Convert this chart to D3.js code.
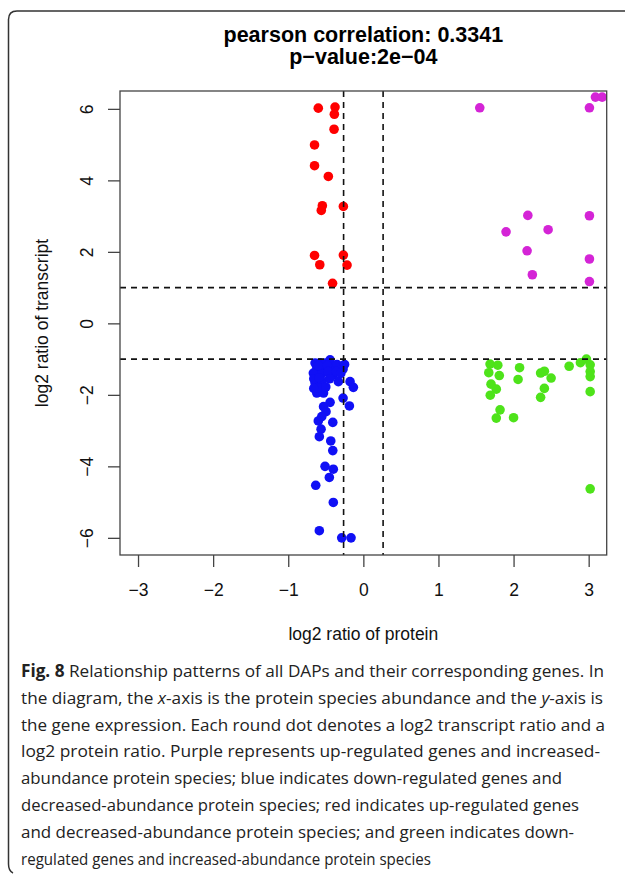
<!DOCTYPE html>
<html><head><meta charset="utf-8">
<script src="https://cdn.jsdelivr.net/npm/d3@7"></script>
<style>body{margin:0;background:#fff}svg{display:block}</style>
</head><body>
<svg id="c" width="625" height="875"></svg>
<script>
const titleLines = ["pearson correlation: 0.3341", "p\u2212value:2e\u221204"];
const xLabel = "log2 ratio of protein";
const yLabel = "log2 ratio of transcript";
const xTicks = [-3, -2, -1, 0, 1, 2, 3];
const yTicks = [-6, -4, -2, 0, 2, 4, 6];
const proteinCut = 0.263;     // log2(1.2)
const transcriptCut = 1;

const redPts = [[-0.60,6.02],[-0.377,6.05],[-0.386,5.85],[-0.39,5.43],[-0.65,4.99],[-0.65,4.41],[-0.466,4.11],[-0.546,3.29],[-0.56,3.16],[-0.266,3.27],[-0.65,1.90],[-0.266,1.91],[-0.58,1.64],[-0.217,1.63],[-0.41,1.12]];
const magentaPts = [[1.55,6.03],[3.01,6.03],[3.09,6.33],[3.18,6.33],[2.19,3.02],[3.01,3.01],[1.90,2.56],[2.46,2.62],[2.18,2.03],[3.01,1.80],[2.25,1.36],[3.01,1.17]];
const greenPts = [[1.687,-1.14],[1.79,-1.17],[1.67,-1.38],[1.81,-1.46],[1.70,-1.70],[1.77,-1.84],[1.69,-2.01],[2.08,-1.24],[2.06,-1.57],[2.36,-1.39],[2.41,-1.34],[2.50,-1.53],[2.41,-1.82],[2.36,-2.07],[1.82,-2.42],[1.77,-2.65],[2.00,-2.64],[2.74,-1.20],[2.89,-1.10],[2.97,-1.00],[3.02,-1.16],[3.02,-1.35],[3.02,-1.49],[3.02,-1.91],[3.02,-4.63]];
const bluePts = [[-0.643,-1.11],[-0.577,-1.10],[-0.51,-1.11],[-0.443,-1.02],[-0.62,-1.25],[-0.53,-1.25],[-0.42,-1.25],[-0.27,-1.28],[-0.666,-1.39],[-0.554,-1.41],[-0.40,-1.44],[-0.333,-1.63],[-0.177,-1.63],[-0.133,-1.79],[-0.643,-1.67],[-0.554,-1.63],[-0.62,-1.95],[-0.53,-1.95],[-0.27,-2.09],[-0.186,-2.31],[-0.443,-2.21],[-0.53,-2.33],[-0.497,-2.47],[-0.554,-2.61],[-0.60,-2.73],[-0.407,-2.77],[-0.563,-2.96],[-0.586,-3.17],[-0.434,-3.29],[-0.407,-3.56],[-0.51,-4.0],[-0.40,-4.08],[-0.453,-4.31],[-0.634,-4.53],[-0.40,-5.01],[-0.586,-5.80],[-0.288,-6.0],[-0.164,-6.0],[-0.60,-1.18],[-0.48,-1.18],[-0.35,-1.15],[-0.66,-1.55],[-0.59,-1.52],[-0.47,-1.35],[-0.36,-1.35],[-0.60,-1.80],[-0.50,-1.78],[-0.45,-1.55],[-0.66,-1.82],[-0.25,-1.15],[-0.30,-1.40]];

const seriesColors = {red:"#ff0000", magenta:"#d424d6", green:"#4ee31a", blue:"#1010f5"};

const captionLines = [
  [{t:"Fig. 8",b:1},{t:" Relationship patterns of all DAPs and their corresponding genes. In"}],
  [{t:"the diagram, the "},{t:"x",i:1},{t:"-axis is the protein species abundance and the "},{t:"y",i:1},{t:"-axis is"}],
  [{t:"the gene expression. Each round dot denotes a log2 transcript ratio and a"}],
  [{t:"log2 protein ratio. Purple represents up-regulated genes and increased-"}],
  [{t:"abundance protein species; blue indicates down-regulated genes and"}],
  [{t:"decreased-abundance protein species; red indicates up-regulated genes"}],
  [{t:"and decreased-abundance protein species; and green indicates down-"}],
  [{t:"regulated genes and increased-abundance protein species"}]
];
const captionWidths = [583, 582, 584, 579, 541, 558, 553, 410];

const svg = d3.select("#c");
const L = 120, R = 606.7, T = 91, B = 555;
const x = d3.scaleLinear().domain([-3.24, 3.24]).range([L, R]);
const y = d3.scaleLinear().domain([-6.48, 6.5]).range([B, T]);
const fontA = "'Liberation Sans', Arial, Helvetica, sans-serif";

// outer figure frame
svg.append("path")
  .attr("d", "M625,11 H17 Q8.5,11 8.5,19.5 V864 Q8.5,871 13,873")
  .attr("fill", "none").attr("stroke", "#333").attr("stroke-width", 1.5);

// title
svg.selectAll("text.title").data(titleLines).join("text")
  .attr("class","title")
  .attr("x", (L+R)/2).attr("y", (d,i) => 42 + i*22)
  .attr("text-anchor","middle")
  .attr("font-family", fontA).attr("font-weight","bold").attr("font-size", 21.5)
  .text(d => d);

// points
const groups = [["red", redPts],["magenta", magentaPts],["green", greenPts],["blue", bluePts]];
groups.forEach(([name, pts]) => {
  svg.append("g").selectAll("circle").data(pts).join("circle")
    .attr("cx", d => x(d[0])).attr("cy", d => y(d[1])).attr("r", 4.8)
    .attr("fill", seriesColors[name]);
});

// dashed threshold lines
const dash = "6,5";
[-proteinCut, proteinCut].forEach(v => {
  svg.append("line").attr("x1", x(v)).attr("x2", x(v)).attr("y1", T).attr("y2", B)
    .attr("stroke","#111").attr("stroke-width",1.6).attr("stroke-dasharray",dash);
});
[-transcriptCut, transcriptCut].forEach(v => {
  svg.append("line").attr("x1", L).attr("x2", R).attr("y1", y(v)).attr("y2", y(v))
    .attr("stroke","#111").attr("stroke-width",1.6).attr("stroke-dasharray",dash);
});

// plot box
svg.append("rect").attr("x", L).attr("y", T).attr("width", R-L).attr("height", B-T)
  .attr("fill","none").attr("stroke","#444").attr("stroke-width",1.3);

// axes
const gx = svg.append("g").attr("transform", `translate(0,${B})`)
  .call(d3.axisBottom(x).tickValues(xTicks).tickSize(12).tickPadding(17).tickFormat(d3.format("d")));
gx.select(".domain").remove();
gx.selectAll("line").attr("stroke","#444").attr("stroke-width",1.3);
gx.selectAll("text").attr("font-family", fontA).attr("font-size", 17.5).attr("fill","#111");

const gy = svg.append("g").attr("transform", `translate(${L},0)`)
  .call(d3.axisLeft(y).tickValues(yTicks).tickSize(12).tickFormat(d3.format("d")));
gy.select(".domain").remove();
gy.selectAll("line").attr("stroke","#444").attr("stroke-width",1.3);
gy.selectAll("text")
  .attr("font-family", fontA).attr("font-size", 17.5).attr("fill","#111")
  .attr("x", null).attr("dy", null)
  .attr("text-anchor","middle")
  .attr("transform", "translate(-26.7,0) rotate(-90)");

// axis titles
svg.append("text").attr("x", (L+R)/2).attr("y", 640).attr("text-anchor","middle")
  .attr("font-family", fontA).attr("font-size", 17.5).attr("fill","#111").text(xLabel);
svg.append("text").attr("transform", `translate(48,${(T+B)/2}) rotate(-90)`).attr("text-anchor","middle")
  .attr("font-family", fontA).attr("font-size", 17.5).attr("fill","#111").text(yLabel);

// caption
const cap = svg.append("g");
captionLines.forEach((parts, i) => {
  const t = cap.append("text").attr("x", 21).attr("y", 677 + i*26.8)
    .attr("font-family", "'Open Sans', 'Noto Sans', sans-serif").attr("font-size", 17)
    .attr("fill", "#222")
    .attr("textLength", captionWidths[i]).attr("lengthAdjust", "spacingAndGlyphs");
  parts.forEach(p => {
    const ts = t.append("tspan").text(p.t);
    if (p.b) ts.attr("font-weight","bold");
    if (p.i) ts.attr("font-style","italic");
  });
});
</script>
</body></html>
